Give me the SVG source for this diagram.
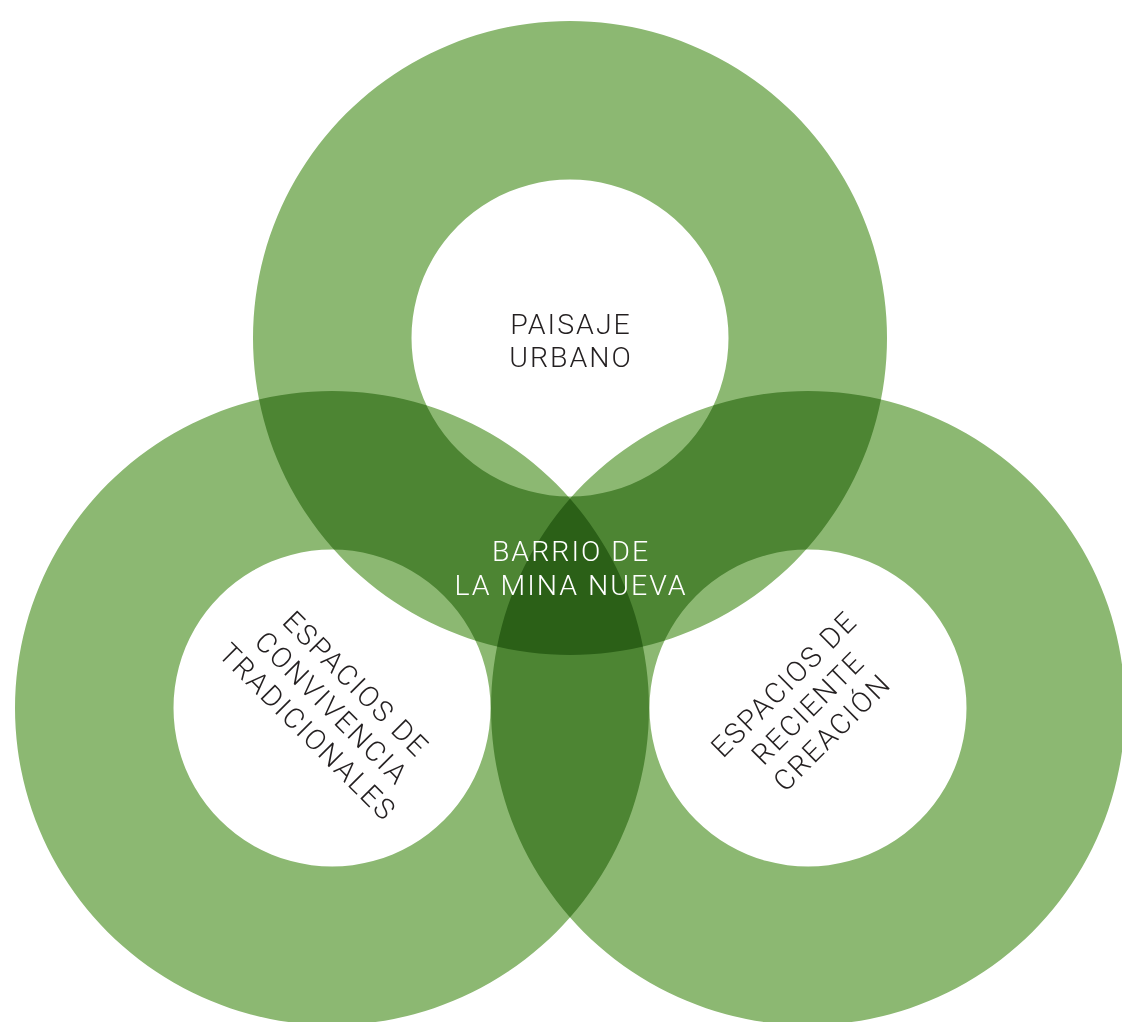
<svg xmlns="http://www.w3.org/2000/svg" width="1122" height="1022" viewBox="0 0 1122 1022">
<style>
.ring{fill:#8cb872;fill-rule:evenodd;mix-blend-mode:multiply}
.lbl{font-family:Roboto,"Liberation Sans",sans-serif;font-weight:300;font-size:28.5px;letter-spacing:2px;text-anchor:middle}
.dark{fill:#231f20}
.light{fill:#ffffff}
</style>
<rect width="1122" height="1022" fill="#ffffff"/>
<g id="rings" style="isolation:isolate">
<g id="ring-top"><path class="ring" d="M570,21a317,317 0 1,0 0.01,0zM570,179.5a158.5,158.5 0 1,0 0.01,0z"/></g>
<g id="ring-left"><path class="ring" d="M332,391a317,317 0 1,0 0.01,0zM332,549.5a158.5,158.5 0 1,0 0.01,0z"/></g>
<g id="ring-right"><path class="ring" d="M808,391a317,317 0 1,0 0.01,0zM808,549.5a158.5,158.5 0 1,0 0.01,0z"/></g>
</g>
<g id="node-paisaje">
<text class="lbl dark" x="571" y="334">PAISAJE</text>
<text class="lbl dark" x="571" y="367">URBANO</text>
</g>
<g id="node-barrio">
<text class="lbl light" x="571" y="561">BARRIO DE</text>
<text class="lbl light" x="571" y="595">LA MINA NUEVA</text>
</g>
<g id="node-tradicionales" transform="translate(332,708) rotate(45)">
<text class="lbl dark" x="0" y="-24">ESPACIOS DE</text>
<text class="lbl dark" x="0" y="10">CONVIVENCIA</text>
<text class="lbl dark" x="0" y="44">TRADICIONALES</text>
</g>
<g id="node-reciente" transform="translate(808,708) rotate(-45)">
<text class="lbl dark" x="0" y="-24">ESPACIOS DE</text>
<text class="lbl dark" x="0" y="10">RECIENTE</text>
<text class="lbl dark" x="0" y="44">CREACIÓN</text>
</g>
</svg>
